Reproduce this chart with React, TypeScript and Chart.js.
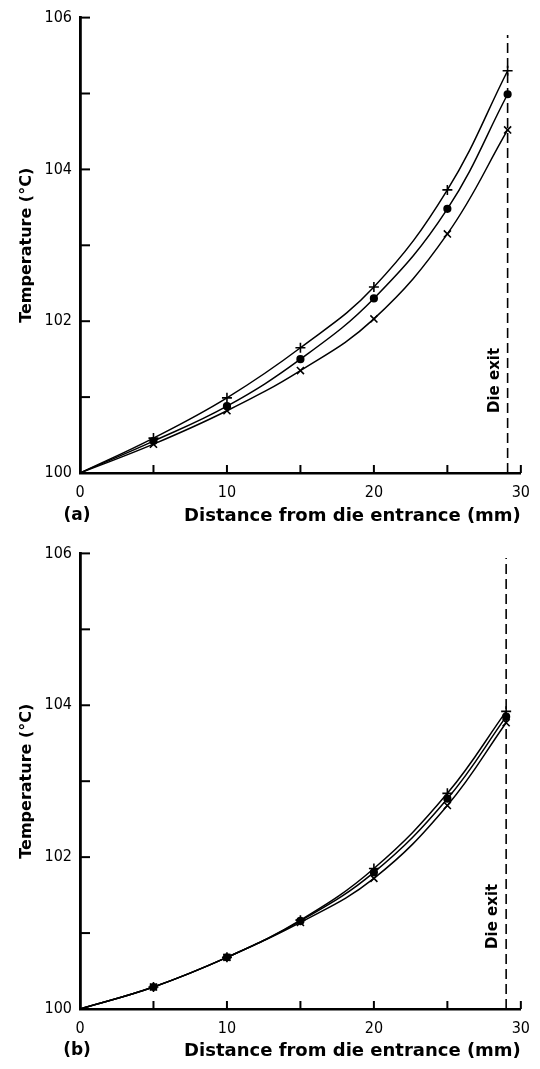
import React, { useEffect, useRef } from "react";
import { Chart, registerables } from "chart.js";

Chart.register(...registerables);

// ---- Data ----
// Panel (a)
const distancesA = [0, 5, 10, 15, 20, 25, 29.1];
const tempPlusA = [100, 100.46, 100.99, 101.65, 102.45, 103.73, 105.3];
const tempDotA = [100, 100.42, 100.88, 101.5, 102.3, 103.48, 104.99];
const tempCrossA = [100, 100.38, 100.82, 101.35, 102.03, 103.15, 104.52];
const dieExitXA = [29.1, 29.1];
const dieExitYA = [100, 105.77];

// Panel (b)
const distancesB = [0, 5, 10, 15, 20, 25, 29.0];
const tempPlusB = [100, 100.29, 100.68, 101.17, 101.85, 102.84, 103.92];
const tempDotB = [100, 100.29, 100.68, 101.16, 101.8, 102.77, 103.85];
const tempCrossB = [100, 100.29, 100.68, 101.14, 101.72, 102.68, 103.77];
const dieExitXB = [29.0, 29.0];
const dieExitYB = [100, 105.94];

// Axis ticks
const xTickLabels = ["0", "10", "20", "30"];
const yTickLabels = ["100", "102", "104", "106"];
const xRange = [0, 30];
const yRange = [100, 106];

const FONT = '"DejaVu Sans", sans-serif';
const FONT_COND = '"DejaVu Sans Condensed", "DejaVu Sans", sans-serif';

const toPoints = (xs: number[], ys: number[]) => xs.map((x, i) => ({ x, y: ys[i] }));

const figurePlugin = {
  id: "figure",
  afterDraw(chart: any, _args: any, opts: any) {
    const { ctx, chartArea, scales } = chart;
    const xs = scales.x;
    const ys = scales.y;
    ctx.save();
    ctx.strokeStyle = "#000";
    ctx.lineWidth = 2;
    // inward tick marks
    xs.ticks.forEach((t: any) => {
      if (t.value === xs.min) return;
      const px = xs.getPixelForValue(t.value);
      ctx.beginPath();
      ctx.moveTo(px, chartArea.bottom);
      ctx.lineTo(px, chartArea.bottom - 8);
      ctx.stroke();
    });
    ys.ticks.forEach((t: any) => {
      if (t.value === ys.min) return;
      const py = ys.getPixelForValue(t.value);
      ctx.beginPath();
      ctx.moveTo(chartArea.left, py);
      ctx.lineTo(chartArea.left + 10, py);
      ctx.stroke();
    });
    // "Die exit" label
    ctx.fillStyle = "#000";
    ctx.font = `bold 15px ${FONT}`;
    ctx.textAlign = "center";
    ctx.textBaseline = "middle";
    ctx.save();
    ctx.translate(xs.getPixelForValue(opts.exitX) - 13, ys.getPixelForValue(opts.exitLabelY));
    ctx.rotate(-Math.PI / 2);
    ctx.fillText("Die exit", 0, 0);
    ctx.restore();
    // panel label
    ctx.font = `bold 17px ${FONT}`;
    ctx.fillText(opts.panel, chartArea.left - 3, chart.height - 18);
    ctx.restore();
  },
};

function makeConfig(
  xs: number[],
  plus: number[],
  dot: number[],
  cross: number[],
  exitX: number[],
  exitY: number[],
  panel: string,
  padTop: number,
  xAxisHeight: number
) {
  const hideFirst = (r: number) => (c: any) => (c.dataIndex === 0 ? 0 : r);
  const curve = (label: string, data: number[], style: string, r: number) => ({
    label,
    data: toPoints(xs, data),
    borderColor: "#000",
    backgroundColor: "#000",
    borderWidth: 1.5,
    pointStyle: style,
    pointRadius: hideFirst(r),
    pointBorderWidth: 1.6,
    pointBorderColor: "#000",
    pointBackgroundColor: "#000",
    tension: 0.4,
    fill: false,
  });
  return {
    type: "line",
    data: {
      datasets: [
        curve("+", plus, "cross", 5),
        curve("•", dot, "circle", 3.3),
        curve("×", cross, "crossRot", 5),
        {
          label: "Die exit",
          data: toPoints(exitX, exitY),
          borderColor: "#000",
          borderWidth: 1.6,
          borderDash: [10, 5],
          pointRadius: 0,
          tension: 0,
          fill: false,
        },
      ],
    },
    options: {
      animation: false,
      responsive: false,
      events: [],
      layout: { padding: { top: padTop, right: 13, bottom: 0, left: 0 } },
      plugins: {
        legend: { display: false },
        tooltip: { enabled: false },
        figure: { exitX: exitX[0], exitLabelY: 101.22, panel },
      },
      scales: {
        x: {
          type: "linear",
          min: xRange[0],
          max: xRange[1],
          grid: { display: false, drawTicks: false },
          border: { display: true, color: "#000", width: 2.5 },
          ticks: {
            stepSize: 5,
            autoSkip: false,
            maxRotation: 0,
            padding: 10,
            color: "#000",
            font: { family: FONT_COND, size: 16 },
            callback: (v: number) => (xTickLabels.includes(String(v)) ? String(v) : ""),
          },
          title: {
            display: true,
            text: "Distance from die entrance (mm)",
            align: "end",
            color: "#000",
            font: { family: FONT, size: 18, weight: "bold" },
            padding: { top: 0, bottom: 7 },
          },
          afterFit: (s: any) => {
            s.height = xAxisHeight;
          },
        },
        y: {
          type: "linear",
          min: yRange[0],
          max: yRange[1],
          grid: { display: false, drawTicks: false },
          border: { display: true, color: "#000", width: 2.8 },
          ticks: {
            stepSize: 1,
            padding: 8,
            color: "#000",
            font: { family: FONT_COND, size: 16 },
            callback: (v: number) => (yTickLabels.includes(String(v)) ? String(v) : ""),
          },
          title: {
            display: true,
            text: "Temperature (°C)",
            color: "#000",
            font: { family: FONT, size: 16, weight: "bold" },
            padding: { top: 17, bottom: 0 },
          },
          afterFit: (s: any) => {
            s.width = 80;
          },
        },
      },
    },
    plugins: [figurePlugin],
  } as any;
}

function Panel(props: { config: any; width: number; height: number; top: number }) {
  const ref = useRef<HTMLCanvasElement | null>(null);
  useEffect(() => {
    if (!ref.current) return;
    const chart = new Chart(ref.current, props.config);
    return () => chart.destroy();
  }, []);
  return (
    <canvas
      ref={ref}
      width={props.width}
      height={props.height}
      style={{ position: "absolute", left: 0, top: props.top, width: props.width, height: props.height }}
    />
  );
}

export default function App() {
  const configA = makeConfig(distancesA, tempPlusA, tempDotA, tempCrossA, dieExitXA, dieExitYA, "(a)", 15, 61);
  const configB = makeConfig(distancesB, tempPlusB, tempDotB, tempCrossB, dieExitXB, dieExitYB, "(b)", 19.4, 60);
  return (
    <div style={{ position: "absolute", left: 0, top: 0, width: 540, height: 1069, background: "#fff" }}>
      <Panel config={configA} width={540} height={534} top={0} />
      <Panel config={configB} width={540} height={535} top={534} />
    </div>
  );
}
